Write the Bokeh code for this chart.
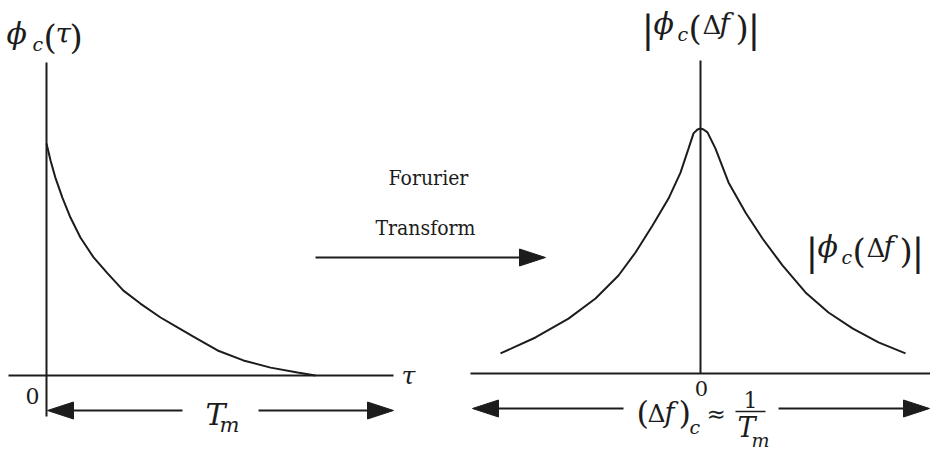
from bokeh.plotting import figure
from bokeh.models import Range1d
from bokeh.core.properties import value
from bokeh.embed import file_html
from bokeh.resources import INLINE

W, H = 930, 451
INK = "#1c1c1c"
SERIF = "DejaVu Serif"
SERIF_NARROW = "DejaVu Serif Condensed"

# Time-domain correlation: tau in units of Tm, phi_c(tau) relative to phi_c(0)
tau = [0.0, 0.015, 0.033, 0.059, 0.089, 0.126, 0.175, 0.227, 0.286, 0.349,
       0.424, 0.487, 0.546, 0.636, 0.732, 0.833, 0.933, 1.0]
phi_tau = [1.0, 0.927, 0.853, 0.767, 0.681, 0.595, 0.509, 0.440, 0.366, 0.310,
           0.250, 0.207, 0.168, 0.108, 0.065, 0.034, 0.013, 0.0]

# Frequency-domain magnitude: delta_f in arbitrary units, |phi_c(delta_f)| relative to its peak
delta_f = [-2.0, -1.65, -1.32, -1.05, -0.82, -0.65, -0.48, -0.32, -0.20, -0.12, -0.07, -0.03, 0.0,
           0.03, 0.07, 0.15, 0.28, 0.45, 0.62, 0.82, 1.05, 1.28, 1.52, 1.78, 2.05]
phi_f = [0.082, 0.147, 0.224, 0.306, 0.400, 0.494, 0.604, 0.714, 0.820, 0.918, 0.980, 0.996, 1.0,
         0.996, 0.984, 0.918, 0.780, 0.657, 0.551, 0.441, 0.331, 0.249, 0.184, 0.127, 0.082]

# Placement of the two panels on the canvas (pixels from top-left)
X0L, Y0L, SXL, SYL = 46, 375, 269, 232   # left origin, px per Tm, px per unit
X0R, Y0R, SXR, SYR = 700, 373, 100, 245  # right origin, px per unit, px per unit

p = figure(width=W, height=H, output_backend="svg", toolbar_location=None,
           x_range=Range1d(0, W), y_range=Range1d(H, 0),
           x_axis_type=None, y_axis_type=None, min_border=0,
           outline_line_color=None, background_fill_color="white",
           border_fill_color="white")
p.grid.visible = False

p.extra_x_ranges = {
    "tau": Range1d(start=(0 - X0L) / SXL, end=(W - X0L) / SXL),
    "df": Range1d(start=(0 - X0R) / SXR, end=(W - X0R) / SXR),
}
p.extra_y_ranges = {
    "phi": Range1d(start=(Y0L - H) / SYL, end=Y0L / SYL),
    "mag": Range1d(start=(Y0R - H) / SYR, end=Y0R / SYR),
}

# curves
p.line(tau, phi_tau, x_range_name="tau", y_range_name="phi", line_width=2, line_color=INK)
p.line(delta_f, phi_f, x_range_name="df", y_range_name="mag", line_width=2, line_color=INK)

# axes
p.segment(x0=[X0L, 8, X0R, 470], y0=[62, Y0L, 60, Y0R],
          x1=[X0L, 393, X0R, W], y1=[416, Y0L, Y0R, Y0R],
          line_width=2, line_color=INK)


def arrow(x_from, x_to, y):
    """Shaft from x_from to the tip at x_to, with a filled head."""
    length, half = 26, 8.5
    d = 1 if x_to > x_from else -1
    p.segment(x0=[x_from], y0=[y], x1=[x_to - d * length * 0.6], y1=[y],
              line_width=2, line_color=INK)
    p.patch([x_to, x_to - d * length, x_to - d * length],
            [y, y - half, y + half], fill_color=INK, line_color=INK)


arrow(182, X0L + 1, 410)
arrow(258, 393, 410)
arrow(315, 545, 257)
arrow(623, 472, 408)
arrow(778, 929, 408)


def txt(x, y, s, size, style="normal", align="left", font=SERIF):
    p.text(x=[x], y=[y], text=[s], text_font=value(font),
           text_font_size=value(f"{size}px"), text_font_style=style,
           text_align=align, text_baseline="middle", text_color=INK)


# phi_c(tau)
txt(6, 33, "ϕ", 30, "italic")
txt(32, 43, "c", 19, "italic")
txt(43, 36, "(", 34)
txt(55, 33, "τ", 28, "italic")
txt(69, 36, ")", 34)


def mag_label(x, y):
    txt(x - 3, y + 5, "|", 38)
    txt(x + 9, y, "ϕ", 30, "italic")
    txt(x + 33, y + 10, "c", 19, "italic")
    txt(x + 44, y + 4, "(", 34)
    txt(x + 58, y + 1, "Δ", 26)
    txt(x + 75, y, "f", 28, "italic")
    txt(x + 91, y + 4, ")", 34)
    txt(x + 103, y + 5, "|", 38)


mag_label(644, 23)
mag_label(808, 246)

txt(428, 177, "Forurier", 21, align="center", font=SERIF_NARROW)
txt(425, 227, "Transform", 21, align="center", font=SERIF_NARROW)

# left baseline annotations
txt(32, 395, "0", 22, align="center")
txt(401, 375, "τ", 25, "italic")
txt(205, 414, "T", 30, "italic")
txt(219, 424, "m", 21, "italic")

# right baseline annotations
txt(701, 388, "0", 21, align="center")
txt(636, 412, "(", 32)
txt(647, 413, "Δ", 25)
txt(664, 412, "f", 27, "italic")
txt(678, 412, ")", 32)
txt(689, 426, "c", 19, "italic")
txt(706, 413, "≈", 23)
txt(750, 399, "1", 22, align="center")
p.segment(x0=[735], y0=[411], x1=[765], y1=[411], line_width=1.5, line_color=INK)
txt(737, 427, "T", 27, "italic")
txt(751, 439, "m", 19, "italic")

open("out.html", "w").write(file_html(p, INLINE))
